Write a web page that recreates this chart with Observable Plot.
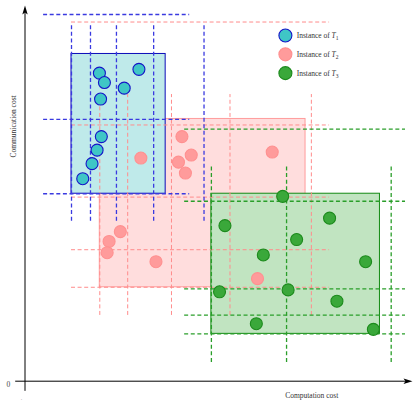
<!DOCTYPE html>
<html>
<head>
<meta charset="utf-8">
<script src="https://cdn.jsdelivr.net/npm/d3@7"></script>
<script src="https://cdn.jsdelivr.net/npm/@observablehq/plot@0.6"></script>
<style>
  html, body { margin: 0; padding: 0; background: white; }
  #chart { width: 415px; height: 404px; }
</style>
</head>
<body>
<div id="chart"></div>
<script>
// ---- Data (cost units, 0..100 on both axes) ----
const tasks = ["T1", "T2", "T3"];
const boxLeft   = [12.0, 19.3, 48.1];
const boxRight  = [36.3, 72.4, 91.6];
const boxBottom = [49.9, 25.0, 12.6];
const boxTop    = [87.1, 69.8, 49.9];

// dashed guide lines per task
const t1DashY = [97.6, 69.7, 49.9];
const t1DashYSpan = [4.8, 42.5];
const t1DashX = [12.0, 16.9, 23.6, 33.2, 46.2];
const t1DashXSpan = [42.6, 94.7];

const t2DashY = [95.6, 68.2, 49.0, 35.0, 25.0];
const t2DashYSpan = [12.0, 78.6];
const t2DashX = [19.3, 26.5, 37.8, 52.9, 73.9];
const t2DashXSpan = [17.5, 76.3];

const t3DashY = [67.1, 47.9, 24.6, 17.6, 12.6];
const t3DashYSpan = [41.2, 98.2];
const t3DashX = [48.1, 67.5, 94.5];
const t3DashXSpan = [5.0, 57.4];

// instances (computation cost, communication cost)
const t1X = [19.2, 20.5, 29.4, 25.6, 19.5, 19.7, 18.6, 17.3, 14.9];
const t1Y = [82.0, 79.5, 83.0, 78.0, 75.1, 65.1, 61.5, 57.9, 53.9];
const t2X = [29.9, 40.5, 42.9, 39.6, 41.4, 63.8, 24.6, 21.7, 21.2, 33.8, 60.0];
const t2Y = [59.4, 65.1, 60.2, 58.3, 55.4, 61.0, 39.8, 37.2, 34.2, 31.8, 27.3];
const t3X = [66.5, 51.6, 78.6, 70.1, 61.5, 87.9, 50.2, 67.9, 80.5, 59.7, 89.9];
const t3Y = [49.2, 41.4, 43.4, 37.7, 33.6, 31.8, 23.8, 24.3, 21.3, 15.3, 13.8];

const legendLabels = ["Instance of T1", "Instance of T2", "Instance of T3"];
const xLabel = "Computation cost";
const yLabel = "Communication cost";
const originLabel = "0";

// ---- Styles ----
const boxFill   = ["#bfeaea", "#ffdddd", "#c1e4c1"];
const boxStroke = ["#0b0bb8", "#ff9c9c", "#138a13"];
const dashColor = ["#3a3ae0", "#ff8c8c", "#2a9e2a"];
const dotFill   = ["#3fc6c6", "#ff9b9b", "#3aa83a"];
const dotStroke = ["#1414c8", "#ff9090", "#1c8a1c"];
const dash = "4,2.6";
const serif = "Liberation Serif, Times New Roman, serif";

const arrowHead = {
  draw(context, size) {
    const r = Math.sqrt(size / Math.PI);
    context.moveTo(0, 0);
    context.lineTo(0.3 * r, r);
    context.lineTo(0, 0.78 * r);
    context.lineTo(-0.3 * r, r);
    context.closePath();
  }
};

function dashH(ys, span, i, w) {
  return Plot.ruleY(ys, {y: d => d, x1: span[0], x2: span[1], stroke: dashColor[i], strokeWidth: w, strokeDasharray: dash});
}
function dashV(xs, span, i, w) {
  return Plot.ruleX(xs, {x: d => d, y1: span[0], y2: span[1], stroke: dashColor[i], strokeWidth: w, strokeDasharray: dash});
}
function box(i) {
  return Plot.rect([tasks[i]], {x1: boxLeft[i], x2: boxRight[i], y1: boxBottom[i], y2: boxTop[i], fill: boxFill[i], stroke: boxStroke[i], strokeWidth: 1});
}
function dots(xs, ys, i) {
  return Plot.dot(xs, {x: xs, y: ys, r: 6, fill: dotFill[i], stroke: dotStroke[i], strokeWidth: 1.1});
}

const plot = Plot.plot({
  width: 415,
  height: 404,
  marginLeft: 24.5,
  marginRight: 3,
  marginTop: 5,
  marginBottom: 23.3,
  x: {domain: [0, 100], axis: null},
  y: {domain: [0, 100], axis: null},
  style: {background: "white", overflow: "visible", fontFamily: serif},
  marks: [
    box(1), box(0), box(2),
    dashH(t2DashY, t2DashYSpan, 1, 1), dashV(t2DashX, t2DashXSpan, 1, 1),
    dashH(t1DashY, t1DashYSpan, 0, 1.3), dashV(t1DashX, t1DashXSpan, 0, 1.3),
    dashH(t3DashY, t3DashYSpan, 2, 1.3), dashV(t3DashX, t3DashXSpan, 2, 1.3),
    dots(t2X, t2Y, 1), dots(t1X, t1Y, 0), dots(t3X, t3Y, 2),
    // axes
    Plot.ruleY([0], {x1: -2.4, x2: 99, stroke: "black", strokeWidth: 1}),
    Plot.ruleX([0], {y1: -2.7, y2: 98.8, stroke: "black", strokeWidth: 1}),
    Plot.dot([0], {x: 100, y: 0, symbol: arrowHead, r: 9, rotate: 90, fill: "black", stroke: "none"}),
    Plot.dot([0], {x: 0, y: 100, symbol: arrowHead, r: 9, fill: "black", stroke: "none"}),
    Plot.text([originLabel], {x: -4.3, y: -0.9, text: d => d, fontSize: 7.5, fill: "#444"}),
    Plot.text([xLabel], {x: 74.0, y: -3.8, text: d => d, fontSize: 7.5, fill: "#333"}),
    Plot.text([yLabel], {x: -2.9, y: 67.8, text: d => d, fontSize: 7.5, rotate: -90, fill: "#333"}),
    Plot.text(["·"], {x: -0.9, y: -4.9, text: d => d, fontSize: 6, fill: "#999"}),
    // legend
    Plot.dot(legendLabels, {x: 67.2, y: (d, i) => 92.0 - i * 5.0, r: 6.5,
      fill: (d, i) => dotFill[i], stroke: (d, i) => dotStroke[i], strokeWidth: 1.1}),
    Plot.text(legendLabels, {x: 70.1, y: (d, i) => 92.0 - i * 5.0, text: d => d, textAnchor: "start", fontSize: 7.5, fill: "#333"})
  ],
  color: {type: "identity"}
});

// typeset "T1" as italic T with subscript
plot.querySelectorAll("text").forEach(t => {
  const m = t.textContent.match(/^Instance of T(\d)$/);
  if (!m) return;
  t.textContent = "";
  const ns = "http://www.w3.org/2000/svg";
  const a = document.createElementNS(ns, "tspan"); a.textContent = "Instance of "; t.appendChild(a);
  const b = document.createElementNS(ns, "tspan"); b.textContent = "T"; b.setAttribute("font-style", "italic"); t.appendChild(b);
  const c = document.createElementNS(ns, "tspan"); c.textContent = m[1]; c.setAttribute("font-size", "5.5"); c.setAttribute("dy", "2"); t.appendChild(c);
});

document.getElementById("chart").appendChild(plot);
</script>
</body>
</html>
